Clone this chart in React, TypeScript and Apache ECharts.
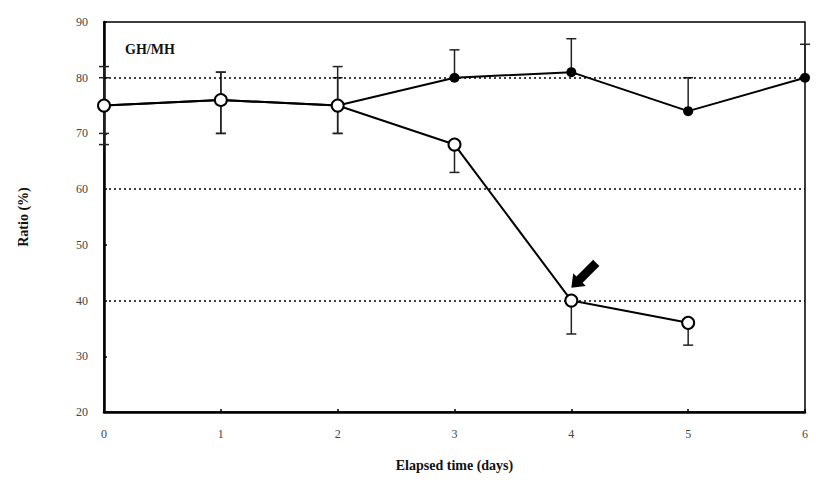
import React, { useEffect, useRef } from "react";
import * as echarts from "echarts";

const days = [0, 1, 2, 3, 4, 5, 6];
const filledValues = [75, 76, 75, 80, 81, 74, 80];
const filledUpper = [82, 81, 82, 85, 87, 80, 86];
const filledLower = [68, 70, 70, 80, 81, 74, 80];
const openDays = [0, 1, 2, 3, 4, 5];
const openValues = [75, 76, 75, 68, 40, 36];
const openUpper = [80, 81, 80, 68, 40, 36];
const openLower = [70, 70, 70, 63, 34, 32];
const refLines = [80, 60, 40];
const arrowAt = [4.12, 44.8];
const yTicks = [20, 30, 40, 50, 60, 70, 80, 90];
const xTicks = [0, 1, 2, 3, 4, 5, 6];

const FONT = "'Liberation Serif', 'DejaVu Serif', serif";

const arrowPath =
  "path://M31.5,3.5 L12.7,22.3 L16.3,25.9 L0,28 L2.1,11.7 L5.7,15.3 L24.5,-3.5 Z";

function errData(xs: number[], vals: number[], lo: number[], hi: number[]) {
  return xs.map((x, i) => [x, lo[i], hi[i], vals[i]]);
}

const errRender = (params: any, api: any) => {
  const x = api.value(0);
  const lo = api.value(1);
  const hi = api.value(2);
  const v = api.value(3);
  const pLo = api.coord([x, lo]);
  const pHi = api.coord([x, hi]);
  const w = 5;
  const style = { stroke: "#222", lineWidth: 1.5 };
  const children: any[] = [
    { type: "line", shape: { x1: pLo[0], y1: pLo[1], x2: pHi[0], y2: pHi[1] }, style },
  ];
  if (hi > v)
    children.push({ type: "line", shape: { x1: pHi[0] - w, y1: pHi[1], x2: pHi[0] + w, y2: pHi[1] }, style });
  if (lo < v)
    children.push({ type: "line", shape: { x1: pLo[0] - w, y1: pLo[1], x2: pLo[0] + w, y2: pLo[1] }, style });
  return { type: "group", children };
};

export default function App() {
  const ref = useRef<HTMLDivElement>(null);
  useEffect(() => {
    if (!ref.current) return;
    const chart = echarts.init(ref.current, undefined, { renderer: "svg" });
    chart.setOption({
      animation: false,
      backgroundColor: "#fff",
      grid: {
        left: 104,
        top: 22,
        right: 22,
        bottom: 74,
        show: true,
        borderColor: "#000",
        borderWidth: 1.5,
      },
      xAxis: {
        type: "value",
        min: 0,
        max: 6,
        interval: 1,
        name: "Elapsed time (days)",
        nameLocation: "middle",
        nameGap: 46,
        nameTextStyle: { fontFamily: FONT, fontSize: 14, fontWeight: "bold", color: "#111" },
        axisLine: { show: true, lineStyle: { color: "#000", width: 2.5 } },
        axisTick: { show: true, inside: true, length: 3, lineStyle: { color: "#000", width: 1.5 } },
        axisLabel: {
          margin: 16,
          fontFamily: FONT,
          fontSize: 12,
          color: "#444",
          formatter: (v: number) => (xTicks.includes(v) ? String(v) : ""),
        },
        splitLine: { show: false },
      },
      yAxis: {
        type: "value",
        min: 20,
        max: 90,
        interval: 10,
        name: "Ratio (%)",
        nameLocation: "middle",
        nameGap: 74,
        nameTextStyle: { fontFamily: FONT, fontSize: 14, fontWeight: "bold", color: "#111" },
        axisLine: { show: true, lineStyle: { color: "#000", width: 2.5 } },
        axisTick: { show: true, inside: true, length: 3, lineStyle: { color: "#000", width: 1.5 } },
        axisLabel: {
          margin: 16,
          fontFamily: FONT,
          fontSize: 12,
          color: "#444",
          formatter: (v: number) => (yTicks.includes(v) ? String(v) : ""),
        },
        splitLine: { show: false },
      },
      graphic: [
        {
          type: "text",
          left: 125,
          top: 42,
          style: { text: "GH/MH", font: `bold 14px ${FONT}`, fill: "#111" },
        },
      ],
      series: [
        {
          type: "custom",
          name: "filledErr",
          renderItem: errRender,
          encode: { x: 0, y: [1, 2] },
          data: errData(days, filledValues, filledLower, filledUpper),
          z: 1,
          silent: true,
        },
        {
          type: "custom",
          name: "openErr",
          renderItem: errRender,
          encode: { x: 0, y: [1, 2] },
          data: errData(openDays, openValues, openLower, openUpper),
          z: 1,
          silent: true,
        },
        {
          type: "line",
          name: "filled",
          data: days.map((d, i) => [d, filledValues[i]]),
          symbol: "circle",
          symbolSize: 10,
          itemStyle: { color: "#000" },
          lineStyle: { color: "#000", width: 2 },
          z: 3,
          markLine: {
            silent: true,
            symbol: "none",
            label: { show: false },
            lineStyle: { type: [2, 3], color: "#000", width: 1.5 },
            data: refLines.map((y) => ({ yAxis: y })),
            z: 2,
          },
        },
        {
          type: "line",
          name: "open",
          data: openDays.map((d, i) => [d, openValues[i]]),
          symbol: "circle",
          symbolSize: 12,
          itemStyle: { color: "#fff", borderColor: "#000", borderWidth: 2 },
          lineStyle: { color: "#000", width: 2 },
          z: 4,
          markPoint: {
            silent: true,
            symbol: arrowPath,
            symbolSize: [28, 28],
            itemStyle: { color: "#000", borderWidth: 0 },
            label: { show: false },
            data: [{ coord: arrowAt }],
          },
        },
      ],
    });
    return () => chart.dispose();
  }, []);
  return (
    <div
      ref={ref}
      style={{ position: "fixed", left: 0, top: 0, width: 827, height: 486, background: "#fff" }}
    />
  );
}
